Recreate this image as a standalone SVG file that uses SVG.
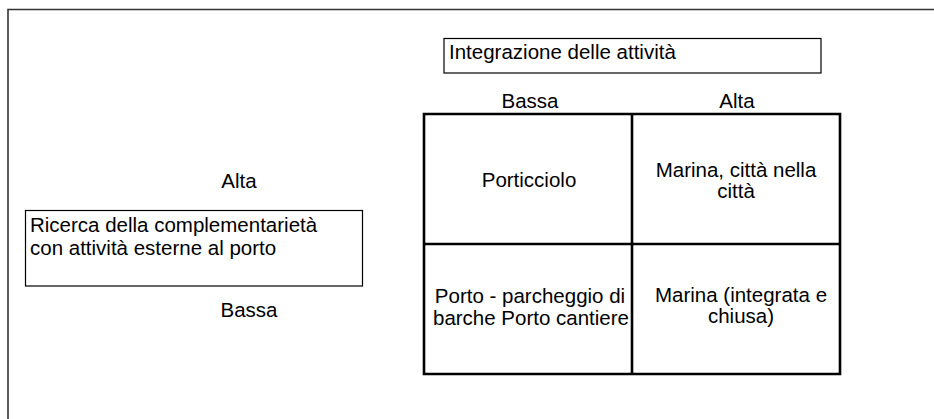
<svg xmlns="http://www.w3.org/2000/svg" width="934" height="419" viewBox="0 0 934 419">
<style>
text{font-family:"Liberation Sans",Arial,sans-serif;font-size:20.5px;fill:#000}
.c{text-anchor:middle}
.box{fill:#fff;stroke:#000;stroke-width:1.2}
.grid{fill:none;stroke:#000;stroke-width:2.6}
</style>
<rect width="934" height="419" fill="#fff"/>
<g id="frame"><path d="M8 419V9.5H934" fill="none" stroke="#333" stroke-width="1.6"/></g>
<g id="title">
<rect class="box" x="444" y="38.5" width="377" height="34.5"/>
<text x="449" y="59">Integrazione delle attività</text>
</g>
<g id="col-labels">
<text class="c" x="530" y="108">Bassa</text>
<text class="c" x="737" y="108">Alta</text>
</g>
<g id="row-labels">
<text class="c" x="239" y="188">Alta</text>
<text class="c" x="249" y="317">Bassa</text>
</g>
<g id="side">
<rect class="box" x="25.5" y="210.5" width="337" height="75.5"/>
<text x="30" y="232">Ricerca della complementarietà</text>
<text x="30" y="255">con attività esterne al porto</text>
</g>
<g id="grid">
<path class="grid" d="M424 114H840V374H424Z M632 114V374 M424 244H840"/>
</g>
<g id="cell-tl"><text class="c" x="529" y="187">Porticciolo</text></g>
<g id="cell-tr">
<text class="c" x="736" y="177">Marina, città nella</text>
<text class="c" x="736" y="198">città</text>
</g>
<g id="cell-bl">
<text class="c" x="530" y="303">Porto - parcheggio di</text>
<text class="c" x="531" y="325">barche Porto cantiere</text>
</g>
<g id="cell-br">
<text class="c" x="741" y="302">Marina (integrata e</text>
<text class="c" x="741" y="323">chiusa)</text>
</g>
</svg>
